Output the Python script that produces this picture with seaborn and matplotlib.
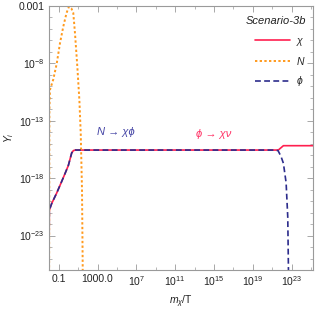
import numpy as np
import pandas as pd
import matplotlib
matplotlib.use("Agg")
import matplotlib.pyplot as plt
import seaborn as sns
from matplotlib.ticker import FixedLocator, FixedFormatter, NullFormatter
from matplotlib.lines import Line2D

# ---- data (log10 values) ----
chi_logx = [-2.0, -1.98, -1.97, -1.72, -1.21, -0.75, -0.35, -0.01, 0.34, 0.51, 0.7, 21.5, 21.64, 22.15, 25.5]
chi_logy = [-27.0, -22.5, -20.8, -20.2, -19.3, -18.4, -17.6, -16.9, -15.8, -15.6, -15.55, -15.55, -15.54, -15.17, -15.17]

phi_logx = [-2.0, -1.98, -1.97, -1.72, -1.21, -0.75, -0.35, -0.01, 0.34, 0.51, 0.7, 21.3, 21.6, 21.9, 22.15, 22.43, 22.6, 22.67, 22.7]
phi_logy = [-27.0, -22.5, -20.8, -20.2, -19.3, -18.4, -17.6, -16.9, -15.8, -15.6, -15.55, -15.55, -15.6, -16.1, -16.7, -18.4, -21.4, -26.0, -27.0]

N_logx = [-1.99, -1.96, -1.9, -1.56, -1.2, -0.87, -0.53, -0.19, 0.06, 0.3, 0.5, 0.68, 0.92, 1.13, 1.27, 1.4, 1.47, 1.48]
N_logy = [-27.0, -12.0, -10.3, -9.4, -8.0, -6.25, -4.8, -3.6, -3.05, -3.2, -3.6, -5.4, -8.3, -11.2, -14.1, -19.0, -25.5, -27.0]

series_labels = [r"$\chi$", r"$N$", r"$\phi$"]
xtick_exp = [-1, 3, 7, 11, 15, 19, 23]
xtick_labels = ["0.1", "1000.0", r"$10^{7}$", r"$10^{11}$", r"$10^{15}$", r"$10^{19}$", r"$10^{23}$"]
ytick_exp = [-3, -8, -13, -18, -23]
ytick_labels = ["0.001", r"$10^{-8}$", r"$10^{-13}$", r"$10^{-18}$", r"$10^{-23}$"]

def frame(lx, ly, name):
    return pd.DataFrame({"x": 10.0 ** np.array(lx), "y": 10.0 ** np.array(ly), "s": name})

df_chi = frame(chi_logx, chi_logy, "chi")
df_N = frame(N_logx, N_logy, "N")
df_phi = frame(phi_logx, phi_logy, "phi")

sns.set_style("ticks")
plt.rcParams["font.family"] = ["Liberation Sans", "DejaVu Sans"]
plt.rcParams["mathtext.fontset"] = "custom"
plt.rcParams["mathtext.rm"] = "Liberation Sans"
plt.rcParams["mathtext.it"] = "Liberation Sans:italic"

c_chi = "#FF1F4F"
c_N = "#FF9A1E"
c_phi = "#2C2C8C"

fig = plt.figure(figsize=(3.16, 3.10), dpi=100)
ax = fig.add_axes([49 / 316, 1 - 270 / 310, (313 - 49) / 316, (270 - 6) / 310])

sns.lineplot(data=df_chi, x="x", y="y", ax=ax, color=c_chi, lw=1.2, sort=False, estimator=None)
sns.lineplot(data=df_N, x="x", y="y", ax=ax, color=c_N, lw=1.4, sort=False, estimator=None,
             linestyle=(0, (1.2, 1.2)))
sns.lineplot(data=df_phi, x="x", y="y", ax=ax, color=c_phi, lw=1.2, sort=False, estimator=None,
             linestyle=(0, (3.5, 2.0)))

ax.set_xscale("log")
ax.set_yscale("log")
ax.set_xlim(1e-2, 10 ** 25.2)
ax.set_ylim(1e-26, 1e-3)

ax.xaxis.set_major_locator(FixedLocator([10.0 ** e for e in xtick_exp]))
ax.xaxis.set_major_formatter(FixedFormatter(xtick_labels))
ax.xaxis.set_minor_locator(FixedLocator([10.0 ** e for e in range(-1, 26, 2)]))
ax.xaxis.set_minor_formatter(NullFormatter())
ax.yaxis.set_major_locator(FixedLocator([10.0 ** e for e in ytick_exp]))
ax.yaxis.set_major_formatter(FixedFormatter(ytick_labels))
ax.yaxis.set_minor_locator(FixedLocator([10.0 ** e for e in range(-26, -2)]))
ax.yaxis.set_minor_formatter(NullFormatter())

for sp in ax.spines.values():
    sp.set_visible(True)
    sp.set_color("#9a9a9a")
    sp.set_linewidth(0.8)
ax.tick_params(which="both", direction="in", top=True, right=True, color="#9a9a9a",
               labelsize=7.5, labelcolor="#222222", pad=3)
ax.tick_params(which="major", length=4, width=0.6)
ax.tick_params(which="minor", length=2, width=0.5)

ax.set_xlabel(r"$m_\chi$/T", fontsize=7.5, color="#222222")
ax.xaxis.set_label_coords(0.5, -0.09)
ax.set_ylabel(r"$Y_i$", fontsize=7.5, color="#222222")
ax.yaxis.set_label_coords(-0.125, 0.5)

ax.text(0.255, 0.522, "N \u2192 \u03c7\u03d5", transform=ax.transAxes, color="#4545A5",
        fontsize=8, style="italic", ha="center", va="center", family=["Liberation Sans", "DejaVu Sans"])
ax.text(0.625, 0.515, "\u03d5 \u2192 \u03c7\u03bd", transform=ax.transAxes, color="#FF3366",
        fontsize=8, style="italic", ha="center", va="center", family=["Liberation Sans", "DejaVu Sans"])
ax.text(0.975, 0.945, "Scenario-3b", transform=ax.transAxes, color="#222222",
        fontsize=8, style="italic", ha="right", va="center")

handles = [Line2D([], [], color=c_chi, lw=1.2),
           Line2D([], [], color=c_N, lw=1.4, linestyle=(0, (1.2, 1.2))),
           Line2D([], [], color=c_phi, lw=1.2, linestyle=(0, (3.5, 2.0)))]
ax.legend(handles, series_labels, loc="upper right", bbox_to_anchor=(1.0, 0.915), frameon=False,
          fontsize=7.5, handlelength=3.4, labelspacing=0.7, handletextpad=0.6, borderaxespad=0.3)

fig.savefig("out.png", dpi=100)
